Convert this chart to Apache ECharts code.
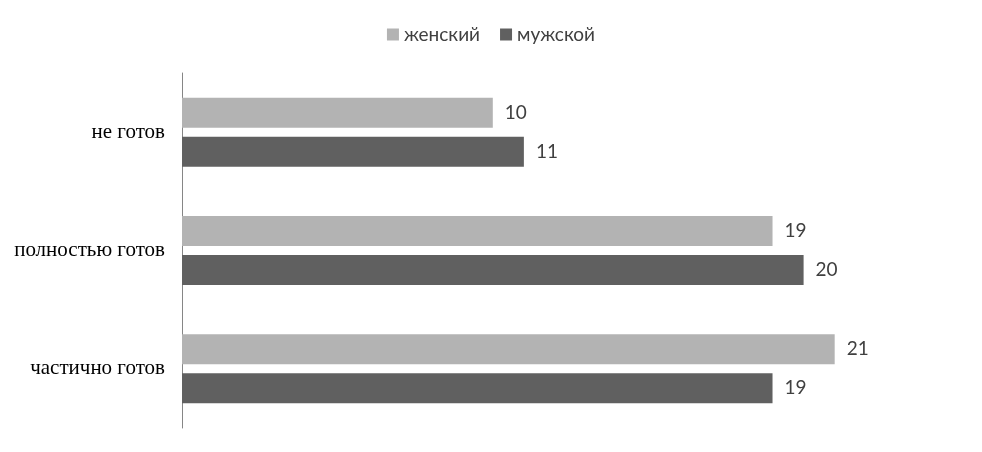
<!DOCTYPE html>
<html><head><meta charset="utf-8">
<script src="https://cdn.jsdelivr.net/npm/echarts@6/dist/echarts.min.js"></script>
<style>html,body{margin:0;padding:0;background:#fff}#c{width:982px;height:452px}</style>
</head><body><div id="c"></div>
<script>
const categories = ["не готов", "полностью готов", "частично готов"];
const female = [10, 19, 21];
const male = [11, 20, 19];
const seriesNames = ["женский", "мужской"];

const chart = echarts.init(document.getElementById('c'));
const labelStyle = {show: true, position: 'right', distance: 12, color: '#404040', fontSize: 19, fontFamily: 'Lato, "Open Sans", sans-serif', padding: [3, 0, 0, 0]};
chart.setOption({
  animation: false,
  legend: {
    top: 20, left: 'center', itemWidth: 12, itemHeight: 12, itemGap: 20,
    icon: 'rect',
    textStyle: {color: '#404040', fontSize: 19, fontFamily: 'Lato, "Open Sans", sans-serif'},
    data: seriesNames
  },
  grid: {left: 182, right: 23, top: 73, bottom: 24, containLabel: false},
  xAxis: {type: 'value', min: 0, max: 25, show: false},
  yAxis: {
    type: 'category', inverse: true, data: categories,
    axisLine: {show: true, lineStyle: {color: '#868686', width: 1}},
    axisTick: {show: false},
    axisLabel: {color: '#000', fontSize: 21, fontFamily: '"Liberation Serif", "Times New Roman", serif', margin: 17, padding: [6, 0, 0, 0]}
  },
  series: [
    {name: seriesNames[0], type: 'bar', data: female, barWidth: 30, barGap: '30%', itemStyle: {color: '#b3b3b3'}, label: labelStyle},
    {name: seriesNames[1], type: 'bar', data: male, barWidth: 30, barGap: '30%', itemStyle: {color: '#606060'}, label: labelStyle}
  ]
});
</script></body></html>
